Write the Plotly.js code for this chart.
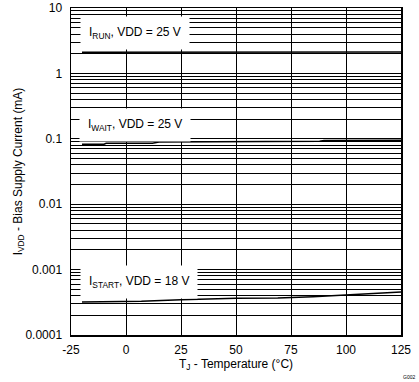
<!DOCTYPE html>
<html>
<head>
<meta charset="utf-8">
<script src="https://cdn.plot.ly/plotly-3.0.1.min.js"></script>
<style>html,body{margin:0;padding:0;background:#fff}#chart{width:419px;height:382px}</style>
</head>
<body>
<div id="chart"></div>
<script>
// Data
const runT = [-20, 12, 40, 70, 100, 125];
const runI = [2.1, 2.1, 2.12, 2.12, 2.12, 2.12];

const waitT = [-20, -10, -9, 12, 15, 68, 70, 88, 90, 125];
const waitI = [0.0824, 0.0826, 0.0853, 0.0855, 0.0892, 0.0895, 0.0916, 0.0918, 0.0946, 0.0948];

const startT = [-20, 0, 7, 19, 25, 50, 69, 85, 94, 104, 112, 125];
const startI = [0.00032, 0.00032, 0.000327, 0.00034, 0.000347, 0.000364, 0.000368, 0.000385, 0.000399, 0.000413, 0.000434, 0.000454];

const xTicks = [-25, 0, 25, 50, 75, 100, 125];
const yMajor = [0.0001, 0.001, 0.01, 0.1, 1, 10];
const yMajorText = ['0.0001', '0.001', '0.01', '0.1', '1', '10'];

const labels = [
  {text: 'I<sub>RUN</sub>, VDD = 25 V', t: 4, i: 4.15},
  {text: 'I<sub>WAIT</sub>, VDD = 25 V', t: 4, i: 0.1625},
  {text: 'I<sub>START</sub>, VDD = 18 V', t: 6, i: 0.00064}
];

const font = {family: '"Liberation Sans", Arial, sans-serif', size: 12, color: '#000'};
const lineStyle = {color: '#000', width: 1.5};

const traces = [
  {x: runT, y: runI, mode: 'lines', line: lineStyle, showlegend: false, hoverinfo: 'skip'},
  {x: waitT, y: waitI, mode: 'lines', line: lineStyle, showlegend: false, hoverinfo: 'skip'},
  {x: startT, y: startI, mode: 'lines', line: lineStyle, showlegend: false, hoverinfo: 'skip'}
];

const annotations = labels.map(l => ({
  x: l.t, y: Math.log10(l.i), xref: 'x', yref: 'y', text: l.text, showarrow: false,
  bgcolor: '#fff', borderpad: 8, font: font, xanchor: 'center', yanchor: 'middle'
}));
annotations.push({x: 1, y: 0, xref: 'paper', yref: 'paper', xanchor: 'right', yanchor: 'top',
  xshift: 16, yshift: -37, text: 'G002', showarrow: false,
  font: {family: '"Liberation Sans", Arial, sans-serif', size: 5, color: '#000'}});

const layout = {
  width: 419, height: 382,
  margin: {l: 71, r: 18, t: 8, b: 47},
  paper_bgcolor: '#fff', plot_bgcolor: '#fff',
  font: font,
  xaxis: {
    range: [-25, 125], tickvals: xTicks, ticktext: xTicks.map(String),
    showgrid: true, gridcolor: '#000', gridwidth: 1, zeroline: false,
    showline: true, linecolor: '#000', linewidth: 1.5, mirror: true,
    ticks: '', tickfont: font, ticklabelstandoff: 3,
    title: {text: 'T<sub>J</sub> - Temperature (°C)', font: font, standoff: 3}
  },
  yaxis: {
    type: 'log', range: [-4, 1], tickvals: yMajor, ticktext: yMajorText,
    showgrid: true, gridcolor: '#000', gridwidth: 1, zeroline: false,
    showline: true, linecolor: '#000', linewidth: 1.5, mirror: true,
    ticks: '', tickfont: font, ticklabelstandoff: 5,
    minor: {dtick: 'D1', showgrid: true, gridcolor: '#000', gridwidth: 1, ticks: ''},
    title: {text: 'I<sub>VDD</sub> - Bias Supply Current (mA)', font: font, standoff: 0}
  },
  annotations: annotations
};

Plotly.newPlot('chart', traces, layout, {displayModeBar: false, staticPlot: true});
</script>
</body>
</html>
